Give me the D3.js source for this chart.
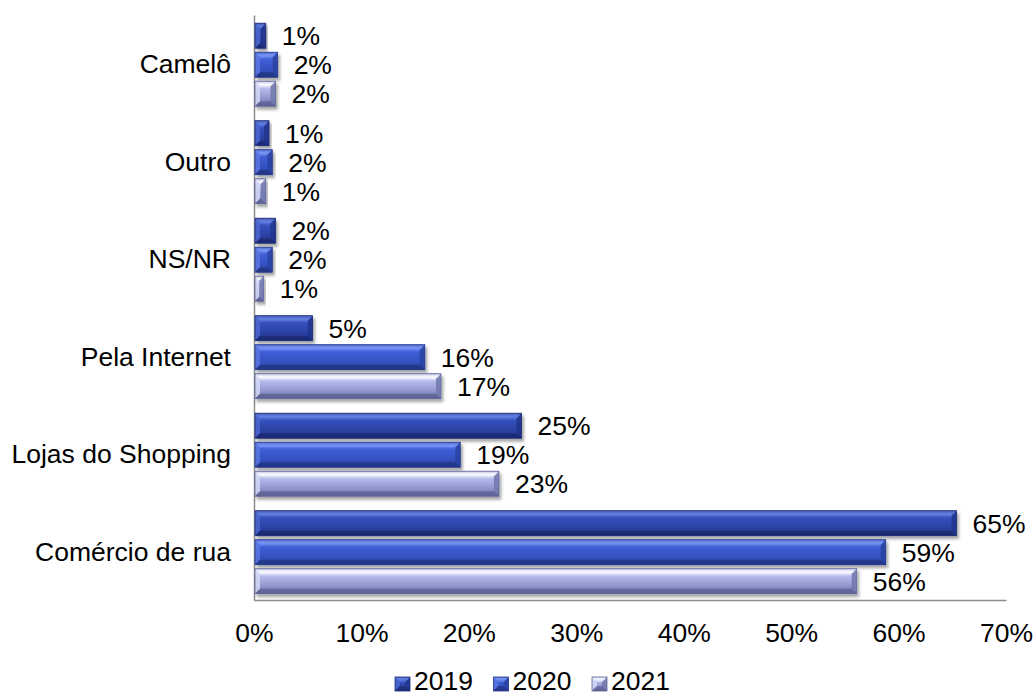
<!DOCTYPE html>
<html><head><meta charset="utf-8">
<script src="https://cdn.jsdelivr.net/npm/d3@7"></script>
<style>body{margin:0;background:#fff}svg{display:block}text{font-family:"Liberation Sans",Arial,sans-serif;fill:#000}</style>
</head><body>
<script>
const categories = ["Camelô","Outro","NS/NR","Pela Internet","Lojas do Shopping","Comércio de rua"];
const seriesNames = ["2019","2020","2021"];
const v2019 = [1.1, 1.4, 2.0, 5.45, 24.9, 65.4];
const v2020 = [2.2, 1.7, 1.7, 15.9, 19.2, 58.8];
const v2021 = [2.0, 1.1, 0.9, 17.4, 22.8, 56.1];
const xTicks = [0,10,20,30,40,50,60,70];
const seriesValues = [v2019, v2020, v2021];

const W = 1036, H = 695;
const FS = 26.5;
const svg = d3.select("body").append("svg").attr("width", W).attr("height", H);
const defs = svg.append("defs");

const pal = [
  {top:"#1d2f86", hi:"#5b78dc", mid:"#3450bd", low:"#2a3f9e", bot:"#1e2d78", left:"#4a66cf", right:"#22358d", tf:"#6a86e6", bf:"#1c2a6e"},
  {top:"#2641a8", hi:"#6e8cf2", mid:"#3e5fd6", low:"#324fbc", bot:"#24388e", left:"#5876e0", right:"#2b44a4", tf:"#7d99f6", bf:"#22357f"},
  {top:"#8a90c6", hi:"#ffffff", mid:"#b6bbec", low:"#8a90c6", bot:"#62679a", left:"#d2d6f6", right:"#737aae", tf:"#f4f5ff", bf:"#5a5f90"}
];
pal.forEach((p,i)=>{
  const g = defs.append("linearGradient").attr("id","g"+i).attr("x1",0).attr("y1",0).attr("x2",0).attr("y2",1);
  [[0,p.top],[0.12,p.hi],[0.3,p.mid],[0.75,p.low],[1,p.bot]].forEach(s=>g.append("stop").attr("offset",s[0]).attr("stop-color",s[1]));
});
const f = defs.append("filter").attr("id","sh").attr("x","-10%").attr("y","-20%").attr("width","130%").attr("height","160%");
f.append("feDropShadow").attr("dx",2).attr("dy",3).attr("stdDeviation",1.6).attr("flood-color","#000").attr("flood-opacity",0.35);

const x = d3.scaleLinear().domain([0,70]).range([254,1006]);
const y = d3.scaleBand().domain(categories).range([15,600]).padding(0);
const yi = d3.scaleBand().domain(seriesNames).range([8.2, 91.2]).paddingInner(4/29).paddingOuter(0);

// axes
const xAxis = d3.axisBottom(x).tickValues(xTicks).tickFormat(d=>d+"%").tickSize(0).tickPadding(0);
const gx = svg.append("g").attr("transform","translate(0,600)").call(xAxis);
gx.select(".domain").attr("stroke","#8c8c8c").attr("stroke-width",1.5);
gx.selectAll("text").attr("font-size",FS).attr("y",42).attr("dy",0).attr("font-family","Liberation Sans, Arial, sans-serif").attr("fill","#000");

const yAxis = d3.axisLeft(y).tickSize(0).tickPadding(23);
const gy = svg.append("g").attr("transform","translate(254,0)").call(yAxis);
gy.select(".domain").attr("stroke","#8c8c8c").attr("stroke-width",1.5);
gy.selectAll("text").attr("font-size",FS).attr("dy","0.35em").attr("font-family","Liberation Sans, Arial, sans-serif").attr("fill","#000");

// bars
const data = [];
categories.forEach((c,ci)=>seriesNames.forEach((s,si)=>data.push({c, s, si, v: seriesValues[si][ci]})));

const bars = svg.append("g").selectAll("g.bar").data(data).join("g").attr("class","bar")
  .attr("transform", d=>`translate(${x(0)+1},${y(d.c)+yi(d.s)})`);

function drawBar(sel, d, w, h, p, shadow) {
  const b = Math.min(5, w/2, h/2);
  const g = sel.append("g");
  if (shadow) g.attr("filter","url(#sh)");
  g.append("rect").attr("width",w).attr("height",h).attr("fill",`url(#g${d.si})`);
  g.append("polygon").attr("points",`0,0 ${b},${b} ${b},${h-b} 0,${h}`).attr("fill",p.left).attr("opacity",0.85);
  g.append("polygon").attr("points",`${w},0 ${w-b},${b} ${w-b},${h-b} ${w},${h}`).attr("fill",p.right).attr("opacity",0.9);
  g.append("polygon").attr("points",`0,0 ${w},0 ${w-b},${b} ${b},${b}`).attr("fill",p.tf).attr("opacity",0.5);
  g.append("polygon").attr("points",`0,${h} ${w},${h} ${w-b},${h-b} ${b},${h-b}`).attr("fill",p.bf).attr("opacity",0.7);
  g.append("rect").attr("width",w).attr("height",h).attr("fill","none").attr("stroke",p.bot).attr("stroke-width",0.8);
}
bars.each(function(d){
  const w = x(d.v) - x(0) - 1;
  drawBar(d3.select(this), d, w, yi.bandwidth(), pal[d.si], true);
});
bars.append("text")
  .attr("x", d=>x(d.v)-x(0)+15)
  .attr("y", yi.bandwidth()/2)
  .attr("dy","0.36em")
  .attr("font-size",FS)
  .text(d=>Math.round(d.v)+"%");

// legend
const legend = svg.append("g").attr("transform","translate(395,0)");
const li = legend.selectAll("g").data(seriesNames).join("g").attr("transform",(d,i)=>`translate(${i*98.5},0)`);
li.each(function(d,i){
  const g = d3.select(this).append("g").attr("transform","translate(0,677)");
  drawBar(g, {si:i}, 15, 14, pal[i], false);
});
li.append("text").attr("x",19).attr("y",690).attr("font-size",FS).text(d=>d);
</script>
</body></html>
